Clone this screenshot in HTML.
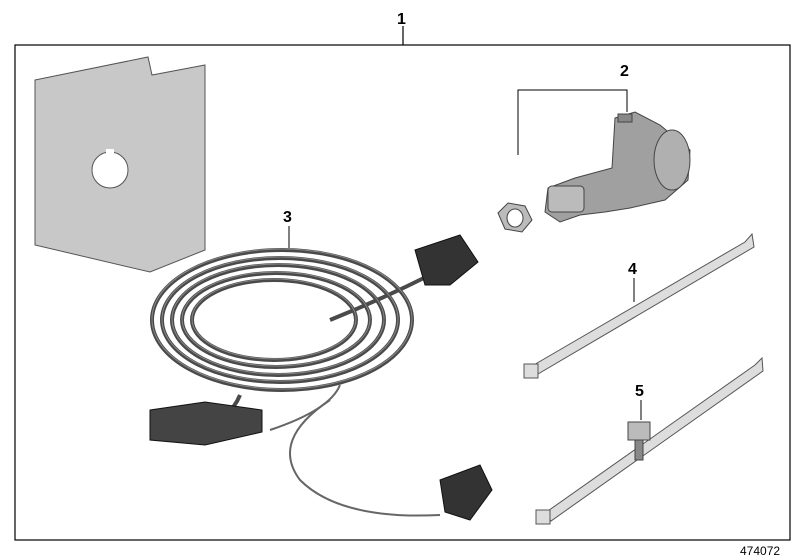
<!DOCTYPE html>
<html><head><style>
html,body{margin:0;padding:0;background:#fff;}
svg{display:block;}
text{font-family:"Liberation Sans",sans-serif;font-weight:bold;font-size:16px;fill:#000;}
</style></head><body>
<svg width="800" height="560" viewBox="0 0 800 560" xmlns="http://www.w3.org/2000/svg">
<rect x="15" y="45" width="775" height="495" fill="none" stroke="#000" stroke-width="1.2"/>
<line x1="403" y1="26" x2="403" y2="45" stroke="#000" stroke-width="1.2"/>
<text x="397" y="24">1</text>
<path d="M35,80 L148,57 L152,75 L205,65 L205,250 L150,272 L35,245 Z" fill="#c8c8c8" stroke="#555" stroke-width="1"/>
<circle cx="110" cy="170" r="18" fill="#fff" stroke="#555"/>
<rect x="106" y="149" width="8" height="8" fill="#fff"/>
<text x="620" y="76">2</text>
<polyline points="518,155 518,90 627,90 627,112" fill="none" stroke="#000" stroke-width="1"/>
<polygon points="498,213 508,203 525,206 532,220 522,232 505,229" fill="#bbb" stroke="#444"/>
<ellipse cx="515" cy="218" rx="8" ry="9" fill="#fff" stroke="#444"/>
<path d="M615,118 L635,112 L660,125 L690,150 L688,180 L665,200 L630,208 L605,212 L580,215 L560,222 L545,212 L548,188 L575,178 L612,168 Z" fill="#a0a0a0" stroke="#444"/>
<ellipse cx="672" cy="160" rx="18" ry="30" fill="#b0b0b0" stroke="#444"/>
<rect x="548" y="186" width="36" height="26" rx="4" fill="#bbb" stroke="#444"/>
<rect x="618" y="114" width="14" height="8" fill="#888" stroke="#444"/>
<text x="283" y="222">3</text>
<line x1="289" y1="226" x2="289" y2="248" stroke="#000"/>
<g fill="none" stroke="#4a4a4a" stroke-width="4">
<ellipse cx="282" cy="320" rx="130" ry="70"/>
<ellipse cx="280" cy="320" rx="118" ry="62"/>
<ellipse cx="278" cy="320" rx="106" ry="55"/>
<ellipse cx="276" cy="320" rx="94" ry="47"/>
<ellipse cx="274" cy="320" rx="82" ry="40"/>
<path d="M330,320 Q380,300 430,275"/>
<path d="M240,395 Q230,420 200,425"/>
</g>
<g fill="none" stroke="#888" stroke-width="1">
<ellipse cx="282" cy="319" rx="130" ry="70"/>
<ellipse cx="280" cy="319" rx="118" ry="62"/>
<ellipse cx="278" cy="319" rx="106" ry="55"/>
<ellipse cx="276" cy="319" rx="94" ry="47"/>
<ellipse cx="274" cy="319" rx="82" ry="40"/>
</g>
<g fill="none" stroke="#666" stroke-width="2">
<path d="M270,430 Q330,410 340,385"/>
<path d="M330,400 Q270,440 300,480 Q340,520 440,515"/>
</g>
<path d="M415,250 L460,235 L478,262 L450,285 L425,285 Z" fill="#333" stroke="#111"/>
<path d="M150,410 L205,402 L262,410 L262,432 L205,445 L150,440 Z" fill="#444" stroke="#111"/>
<path d="M440,480 L480,465 L492,490 L470,520 L445,512 Z" fill="#333" stroke="#111"/>
<text x="628" y="274">4</text>
<line x1="634" y1="278" x2="634" y2="302" stroke="#000"/>
<path d="M532,366 L745,242 L752,234 L754,247 L538,374 Z" fill="#ddd" stroke="#555"/>
<rect x="524" y="364" width="14" height="14" fill="#ddd" stroke="#555"/>
<text x="635" y="396">5</text>
<line x1="641" y1="400" x2="641" y2="420" stroke="#000"/>
<path d="M545,513 L755,365 L762,358 L763,371 L551,521 Z" fill="#ddd" stroke="#555"/>
<rect x="536" y="510" width="14" height="14" fill="#ddd" stroke="#555"/>
<rect x="628" y="422" width="22" height="18" fill="#bbb" stroke="#444"/>
<rect x="635" y="440" width="8" height="20" fill="#888" stroke="#444"/>
<text x="740" y="555" style="font-weight:normal;font-size:12px">474072</text>
</svg>
</body></html>
